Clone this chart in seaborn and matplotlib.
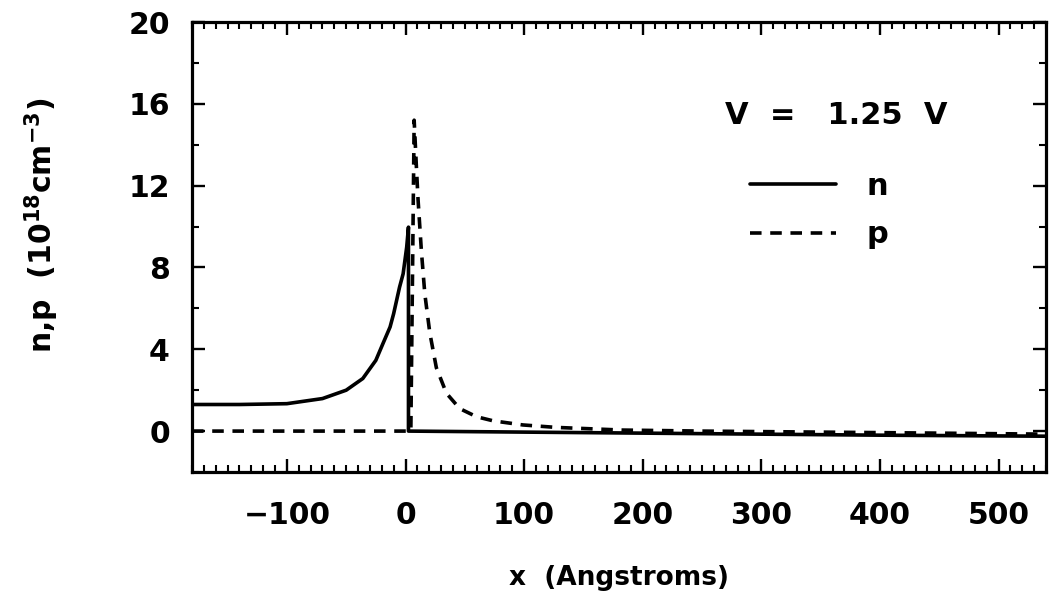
import matplotlib
matplotlib.use("Agg")
import matplotlib.pyplot as plt
import seaborn as sns
import pandas as pd
from matplotlib.ticker import MultipleLocator

# ---- data ----
n_x = [-180, -140, -100, -70, -50, -36, -25, -19, -13, -10, -5, -2, 1, 2.5, 2.5, 100, 200, 300, 400, 540]
n_y = [1.30, 1.30, 1.34, 1.59, 2.0, 2.57, 3.46, 4.28, 5.09, 5.74, 7.04, 7.69, 8.99, 9.97, 0.0,
       -0.05, -0.10, -0.15, -0.20, -0.25]

p_x = [-180, 4.5, 7.3, 9.2, 10.6, 13.4, 16.3, 20.5, 26, 34.5, 45.7, 60, 74, 99, 127, 183, 250, 350, 450, 540]
p_y = [0.0, 0.0, 15.2, 12.9, 11.3, 8.8, 6.7, 4.8, 3.1, 1.85, 1.1, 0.7, 0.5, 0.3, 0.18, 0.05, 0.0,
       -0.05, -0.10, -0.15]

x_ticks = [-100, 0, 100, 200, 300, 400, 500]
y_ticks = [0, 4, 8, 12, 16, 20]
series_labels = ["n", "p"]
title_text = "V  =   1.25  V"
xlabel = "x  (Angstroms)"
ylabel = r"n,p  (10$^{18}$cm$^{-3}$)"

sns.set_style("ticks")
plt.rcParams["font.family"] = ["DejaVu Sans"]
plt.rcParams["font.weight"] = "bold"
plt.rcParams["mathtext.default"] = "bf"
plt.rcParams["text.color"] = "black"

W, H = 1052, 597
fig = plt.figure(figsize=(W / 100, H / 100), dpi=100)
left, right, top, bottom = 192, 1046, 22, 472
ax = fig.add_axes([left / W, 1 - bottom / H, (right - left) / W, (bottom - top) / H])

df_n = pd.DataFrame({"x": n_x, "y": n_y})
df_p = pd.DataFrame({"x": p_x, "y": p_y})

lw = 2.6
sns.lineplot(data=df_n, x="x", y="y", ax=ax, color="black", lw=lw,
             estimator=None, sort=False, label=series_labels[0])
sns.lineplot(data=df_p, x="x", y="y", ax=ax, color="black", lw=lw,
             estimator=None, sort=False, label=series_labels[1],
             linestyle=(0, (3.2, 2.4)))

ax.set_xlim(-180, 540)
ax.set_ylim(-2, 20)
ax.set_xticks(x_ticks)
ax.set_yticks(y_ticks)
ax.xaxis.set_minor_locator(MultipleLocator(10))
ax.yaxis.set_minor_locator(MultipleLocator(2))

fs_tick = 21.5
ax.tick_params(which="both", direction="in", top=True, right=True,
               colors="black", labelcolor="black")
ax.tick_params(which="major", length=9.5, width=1.7, labelsize=fs_tick)
ax.tick_params(which="minor", length=5, width=1.5)
ax.tick_params(axis="x", which="major", pad=21)
ax.tick_params(axis="y", which="major", pad=16)
for lab in ax.get_xticklabels() + ax.get_yticklabels():
    lab.set_fontweight("bold")
for s in ax.spines.values():
    s.set_visible(True)
    s.set_linewidth(2.3)
    s.set_color("black")

ax.set_xlabel("")
ax.set_ylabel("")
fig.text(619 / W, 1 - 578 / H, xlabel, ha="center", va="center", fontsize=19,
         fontweight="bold", color="black")
fig.text(42 / W, 1 - 225 / H, ylabel, ha="center", va="center", rotation=90,
         fontsize=21.5, fontweight="bold", color="black")

ax.text((836 - left) / (right - left), (bottom - 115) / (bottom - top), title_text,
        transform=ax.transAxes, ha="center", va="center", fontsize=22,
        fontweight="bold", color="black")

leg = ax.legend(loc="upper left",
                bbox_to_anchor=((750 - left) / (right - left), (bottom - 172) / (bottom - top)),
                frameon=False, prop={"size": 22, "weight": "bold"},
                handlelength=2.8, handletextpad=1.0,
                labelspacing=0.63, borderpad=0, borderaxespad=0)
for line in leg.get_lines():
    line.set_linewidth(lw)
for t in leg.get_texts():
    t.set_color("black")

fig.savefig("out.png", dpi=100, facecolor="white")
